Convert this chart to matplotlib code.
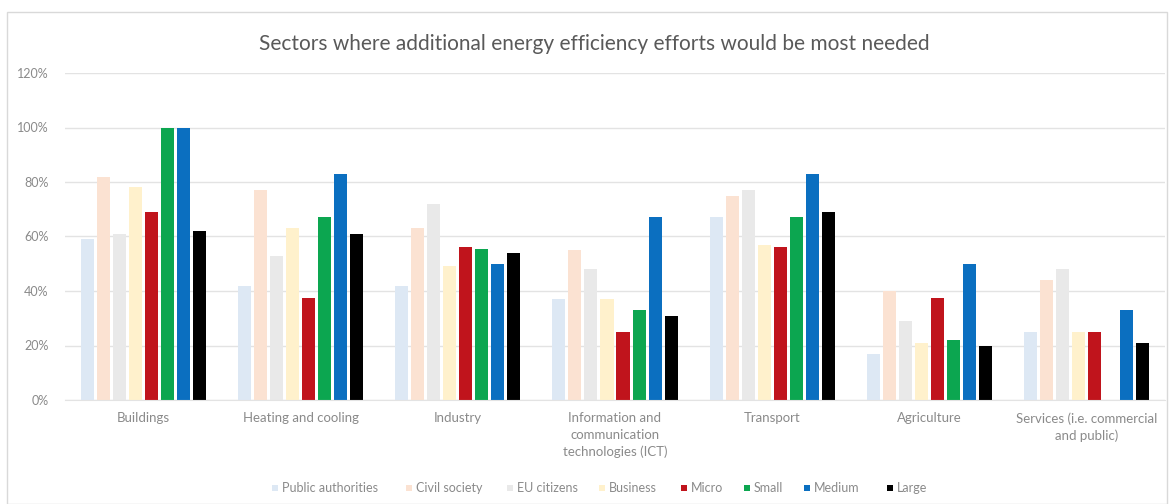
import numpy as np
import matplotlib.pyplot as plt
from matplotlib.patches import Rectangle

plt.rcParams['font.family'] = ['Lato', 'DejaVu Sans']

sectors = ["Buildings", "Heating and cooling", "Industry",
           "Information and\ncommunication\ntechnologies (ICT)", "Transport",
           "Agriculture", "Services (i.e. commercial\nand public)"]
groups = ["Public authorities", "Civil society", "EU citizens", "Business",
          "Micro", "Small", "Medium", "Large"]

public_auth = [59, 42, 42, 37, 67, 17, 25]
civil_soc = [82, 77, 63, 55, 75, 40, 44]
eu_citizens = [61, 53, 72, 48, 77, 29, 48]
business = [78, 63, 49, 37, 57, 21, 25]
micro = [69, 37.5, 56, 25, 56, 37.5, 25]
small = [100, 67, 55.5, 33, 67, 22, 0]
medium = [100, 83, 50, 67, 83, 50, 33]
large = [62, 61, 54, 31, 69, 20, 21]

series = [public_auth, civil_soc, eu_citizens, business, micro, small, medium, large]
colors = ["#dde8f4", "#fbe2d2", "#e9e9e9", "#fff1cc",
          "#c0141c", "#0ca650", "#0b6fc0", "#000000"]

W, H = 1172, 504
fig = plt.figure(figsize=(W / 100, H / 100), dpi=100)
fig.patches.append(Rectangle((7 / W, 0), 1160 / W, 1 - 12 / H,
                             transform=fig.transFigure, fill=False,
                             edgecolor="#d9d9d9", lw=1))
ax = fig.add_axes([65 / W, 1 - 400 / H, 1100 / W, 327 / H])

x = np.arange(len(sectors))
slot = 0.102
width = 0.083
for i, (vals, col) in enumerate(zip(series, colors)):
    ax.bar(x + (i - 3.5) * slot, np.array(vals) / 100, width, color=col,
           label=groups[i], zorder=2)

ax.set_xlim(-0.5, len(sectors) - 0.5)
ax.set_ylim(0, 1.2)
yt = np.arange(0, 1.21, 0.2)
ax.set_yticks(yt)
ax.set_yticklabels([f"{int(round(v * 100))}%" for v in yt],
                   fontsize=9, color="#8a8a8a")
ax.set_xticks(x)
ax.set_xticklabels(sectors, fontsize=9.5, color="#8a8a8a", linespacing=1.45)
ax.tick_params(axis="y", length=0, pad=12)
ax.tick_params(axis="x", length=0, pad=9)
ax.grid(axis="y", color="#e3e3e3", lw=1, zorder=0)
for s in ["top", "right", "left"]:
    ax.spines[s].set_visible(False)
ax.spines["bottom"].set_color("#e3e3e3")

fig.text(594 / W, 1 - 44 / H,
         "Sectors where additional energy efficiency efforts would be most needed",
         ha="center", va="center", fontsize=15, color="#595959")

# legend, laid out by hand so all labels share one baseline
leg_x = [272, 406, 507, 599, 681, 744, 804, 887]
leg_y = 488
for px, lab, col in zip(leg_x, groups, colors):
    fig.patches.append(Rectangle((px / W, (H - leg_y - 3) / H), 6 / W, 6 / H,
                                 transform=fig.transFigure, color=col, lw=0))
    fig.text((px + 10) / W, (H - leg_y - 3.5) / H, lab, ha="left", va="baseline",
             fontsize=9, color="#8a8a8a")

plt.savefig("out.png", dpi=100)
